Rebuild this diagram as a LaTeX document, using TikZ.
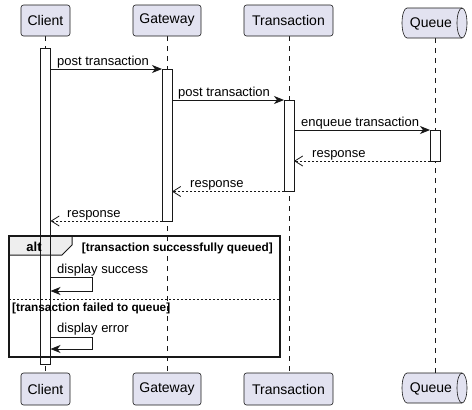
\documentclass[tikz,border=0pt]{standalone}
\usepackage{fontspec}
\setmainfont{Liberation Sans}
\usetikzlibrary{arrows.meta}
\definecolor{pfill}{HTML}{E2E2F0}
\definecolor{ink}{HTML}{181818}
\definecolor{tabfill}{HTML}{EEEEEE}
\begin{document}
\begin{tikzpicture}[x=1pt,y=-1pt,
  part/.style={draw=ink, fill=pfill, line width=0.6pt, rounded corners=2.5pt, inner sep=0pt, font=\fontsize{14}{16}\selectfont},
  qtext/.style={inner sep=0pt, font=\fontsize{14}{16}\selectfont},
  qshape/.style={draw=ink, fill=pfill, line width=0.6pt},
  life/.style={draw=ink, line width=0.5pt, dash pattern=on 5pt off 5pt},
  act/.style={draw=ink, line width=0.9pt},
  msg/.style={draw=ink, line width=0.9pt, -{Stealth[length=10pt,width=8pt,inset=3pt]}},
  ret/.style={draw=ink, line width=0.8pt, dash pattern=on 2pt off 2pt, -{Straight Barb[length=8pt,width=10pt,line width=0.8pt]}},
  lbl/.style={anchor=base west, inner sep=0pt, font=\fontsize{13}{15}\selectfont},
  cond/.style={inner sep=0pt, font=\bfseries\fontsize{11.8}{13}\selectfont},
]
\useasboundingbox (0,0) rectangle (472,410);

% lifelines
\draw[life] (45.5,36) -- (45.5,373);
\draw[life] (167,36) -- (167,373);
\draw[life] (289,36) -- (289,373);
\draw[life] (435,38) -- (435,373);

% activations (fill)
\fill[white] (40.5,48) rectangle (50.5,364);
\fill[white] (162,69) rectangle (172,221);
\fill[white] (284,100) rectangle (294,191.5);
\fill[white] (430,130) rectangle (440,161);

% alt tab fill
\fill[tabfill] (9,236) -- (72,236) -- (72,245) -- (62,255) -- (9,255) -- cycle;

% activation outlines
\draw[act] (40.5,48) rectangle (50.5,364);
\draw[act] (162,69) rectangle (172,221);
\draw[act] (284,100) rectangle (294,191.5);
\draw[act] (430,130) rectangle (440,161);

% alt frame
\draw[ink, line width=1pt] (9,255) -- (62,255) -- (72,245) -- (72,236);
\draw[ink, line width=0.8pt, dash pattern=on 2pt off 2pt] (9,299) -- (280,299);
\draw[ink, line width=1.5pt] (9,236) rectangle (280,357);
\node[inner sep=0pt, font=\bfseries\fontsize{13}{15}\selectfont, anchor=base] (alt) at (34,251) {alt};
\node[cond, anchor=base east] (c1) at (273,251) {[transaction successfully queued]};
\node[cond, anchor=base west] (c2) at (12,311) {[transaction failed to queue]};

% participants top
\node[part, minimum width=49pt, minimum height=31pt] (cliT) at (45.5,20.5) {Client};
\node[part, minimum width=68pt, minimum height=31pt] (gwT) at (167,20.5) {Gateway};
\node[part, minimum width=89pt, minimum height=31pt] (trT) at (288.5,20.5) {Transaction};
\path[qshape] (407,8) -- (462,8) arc[start angle=90, end angle=-90, x radius=5pt, y radius=15pt] -- (407,38) arc[start angle=270, end angle=90, x radius=5pt, y radius=15pt] -- cycle;
\draw[ink, line width=0.6pt] (462,8) arc[start angle=90, end angle=270, x radius=5pt, y radius=15pt];
\node[qtext] (quT) at (431,23.5) {Queue};

% participants bottom
\node[part, minimum width=49pt, minimum height=32pt] (cliB) at (45.5,389) {Client};
\node[part, minimum width=68pt, minimum height=32pt] (gwB) at (167,389) {Gateway};
\node[part, minimum width=89pt, minimum height=32pt] (trB) at (288.5,389) {Transaction};
\path[qshape] (407,373) -- (462,373) arc[start angle=90, end angle=-90, x radius=5pt, y radius=15pt] -- (407,403) arc[start angle=270, end angle=90, x radius=5pt, y radius=15pt] -- cycle;
\draw[ink, line width=0.6pt] (462,373) arc[start angle=90, end angle=270, x radius=5pt, y radius=15pt];
\node[qtext] (quB) at (431,388.5) {Queue};

% messages
\coordinate (m1s) at (50.5,69);  \coordinate (m1e) at (162,69);
\coordinate (m2s) at (172,100);  \coordinate (m2e) at (284,100);
\coordinate (m3s) at (294,130);  \coordinate (m3e) at (430,130);
\coordinate (m4s) at (430,161);  \coordinate (m4e) at (294,161);
\coordinate (m5s) at (284,191.5);\coordinate (m5e) at (172,191.5);
\coordinate (m6s) at (162,221);  \coordinate (m6e) at (50.5,221);
\draw[msg] (m1s) -- (m1e);
\draw[msg] (m2s) -- (m2e);
\draw[msg] (m3s) -- (m3e);
\draw[ret] (m4s) -- (m4e);
\draw[ret] (m5s) -- (m5e);
\draw[ret] (m6s) -- (m6e);
\node[lbl] (l1) at (57,65) {post transaction};
\node[lbl] (l2) at (178,96) {post transaction};
\node[lbl] (l3) at (301,126) {enqueue transaction};
\node[lbl] (l4) at (312,157) {response};
\node[lbl] (l5) at (190,187.5) {response};
\node[lbl] (l6) at (67,217) {response};

% self messages
\coordinate (s1a) at (50.5,277); \coordinate (s1b) at (92,277);
\coordinate (s1c) at (92,291);   \coordinate (s1d) at (50.5,291);
\draw[msg] (s1a) -- (s1b) -- (s1c) -- (s1d);
\node[lbl] (l7) at (57,273) {display success};
\coordinate (s2a) at (50.5,337); \coordinate (s2b) at (92,337);
\coordinate (s2c) at (92,349);   \coordinate (s2d) at (50.5,349);
\draw[msg] (s2a) -- (s2b) -- (s2c) -- (s2d);
\node[lbl] (l8) at (57,332) {display error};
\end{tikzpicture}
\end{document}
